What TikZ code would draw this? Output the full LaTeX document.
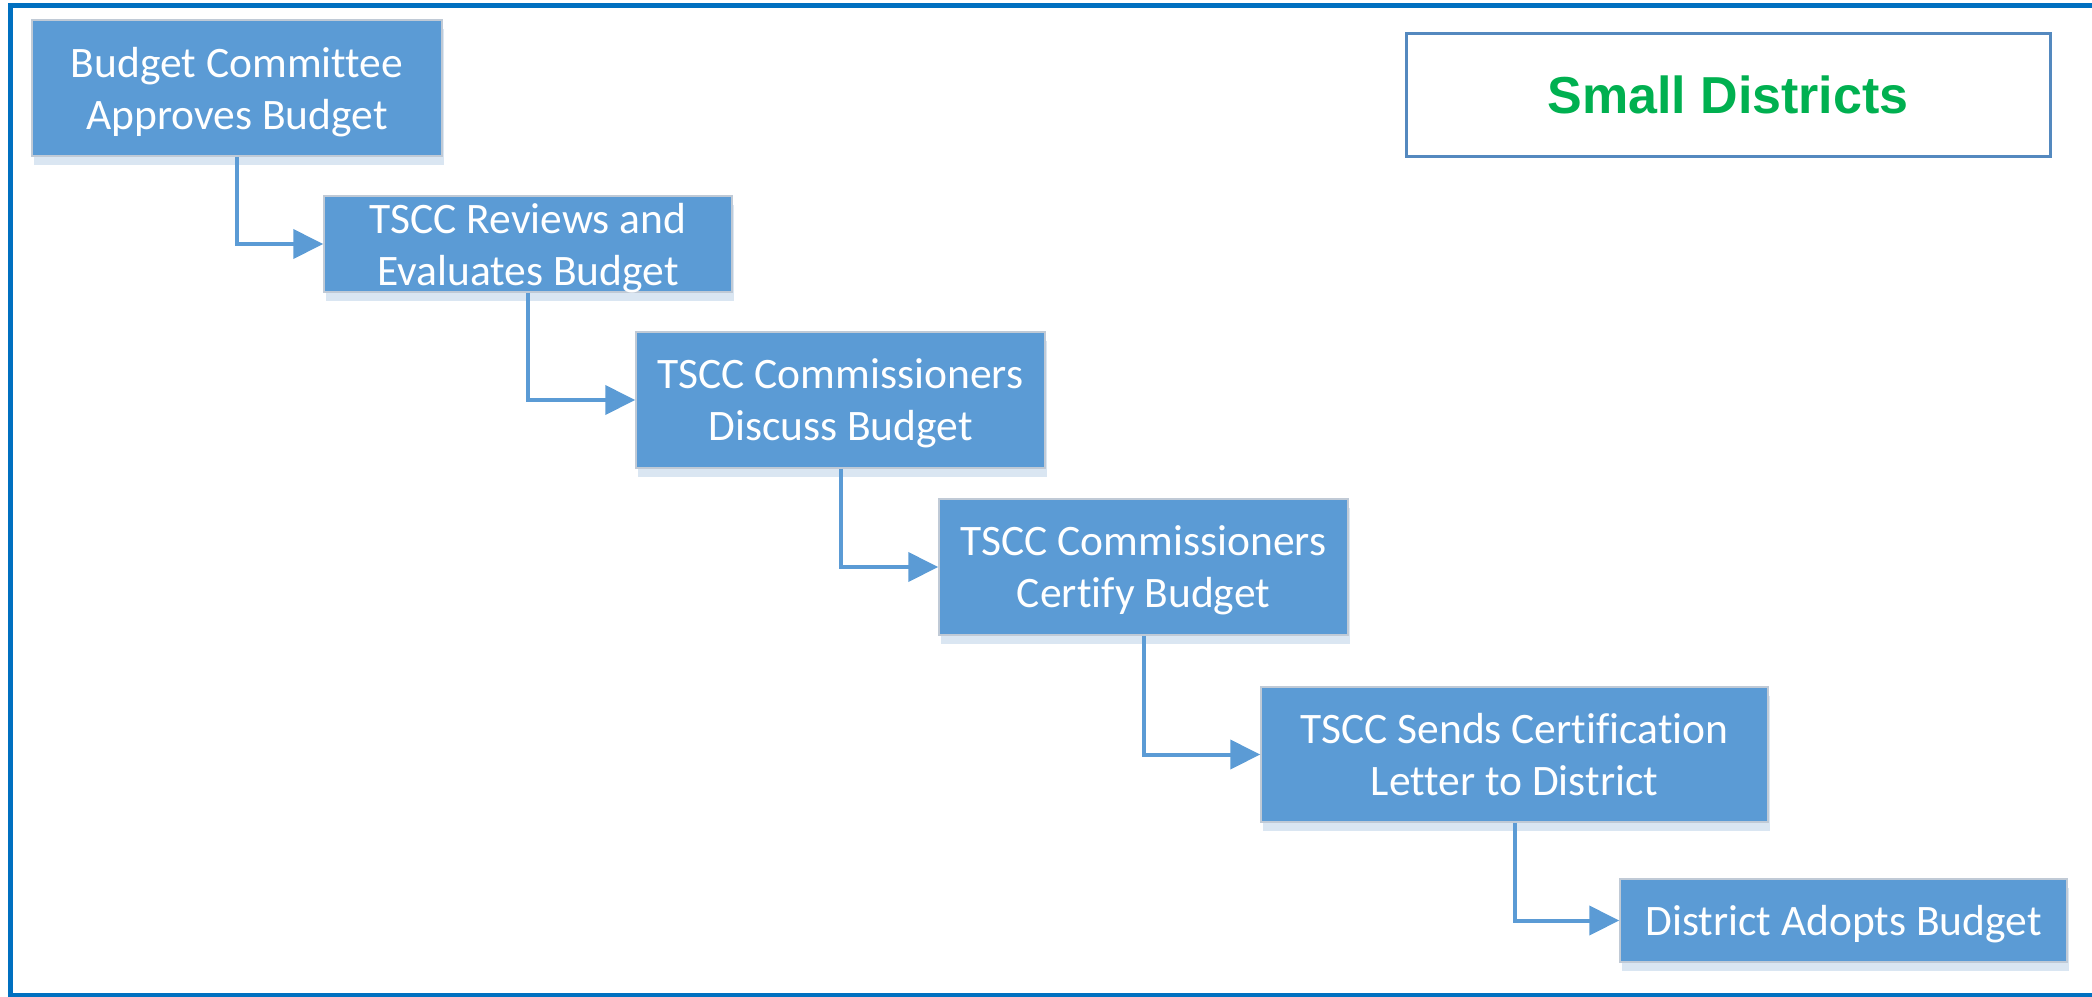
\documentclass[tikz,border=0pt]{standalone}
\usepackage{fontspec}
\setmainfont[Ligatures={NoCommon}]{Carlito}
\newfontfamily\titlefont{Liberation Sans}
\usetikzlibrary{arrows.meta,shadows}
\definecolor{framec}{RGB}{0,112,192}
\definecolor{boxfill}{RGB}{91,155,213}
\definecolor{boxline}{RGB}{192,202,214}
\definecolor{shadowc}{RGB}{218,230,242}
\definecolor{titleline}{RGB}{84,137,191}
\definecolor{titlegreen}{RGB}{0,176,80}

\begin{document}
\begin{tikzpicture}[x=1pt,y=-1pt,
  stepbox/.style={draw=boxline, line width=1.5pt, fill=boxfill, text=white,
    inner sep=0pt, align=center, text depth=0pt,
    font=\fontsize{43.5}{52}\selectfont,
    drop shadow={shadow xshift=2pt, shadow yshift=-9pt, fill=shadowc,
      opacity=1, draw=none}},
  conn/.style={draw=boxfill, line width=4pt,
    -{Triangle[length=30pt,width=29pt]}},
  titlebox/.style={draw=titleline, line width=3pt, fill=white,
    inner sep=0pt, text=titlegreen,
    font=\titlefont\bfseries\fontsize{52}{60}\selectfont},
]
\useasboundingbox (0,0) rectangle (2092,996);
\clip (0,0) rectangle (2092,996);

% outer frame
\draw[draw=framec, line width=5pt] (10.5,5.5) rectangle (2110,995.5);

% title
\node[titlebox, minimum width=644pt, minimum height=123pt] (title)
  at (1728,94.5) {Small Districts};

% process steps
\node[stepbox, minimum width=410pt, minimum height=136pt] (b1)
  at (237,88) {Budget Committee\\Approves Budget};
\node[stepbox, minimum width=408pt, minimum height=96pt] (b2)
  at (528,244) {TSCC Reviews and\\Evaluates Budget};
\node[stepbox, minimum width=409pt, minimum height=136pt] (b3)
  at (840.5,400) {TSCC Commissioners\\Discuss Budget};
\node[stepbox, minimum width=409pt, minimum height=136pt] (b4)
  at (1143.5,567) {TSCC Commissioners\\Certify Budget};
\node[stepbox, minimum width=507pt, minimum height=135pt] (b5)
  at (1514.5,754.5) {TSCC Sends Certification\\Letter to District};
\node[stepbox, minimum width=447pt, minimum height=83pt] (b6)
  at (1843.5,920.5) {District Adopts Budget};

% connectors
\draw[conn] (b1.south) |- (b2.west);
\draw[conn] (b2.south) |- (b3.west);
\draw[conn] (b3.south) |- (b4.west);
\draw[conn] (b4.south) |- (b5.west);
\draw[conn] (b5.south) |- (b6.west);
\end{tikzpicture}
\end{document}
